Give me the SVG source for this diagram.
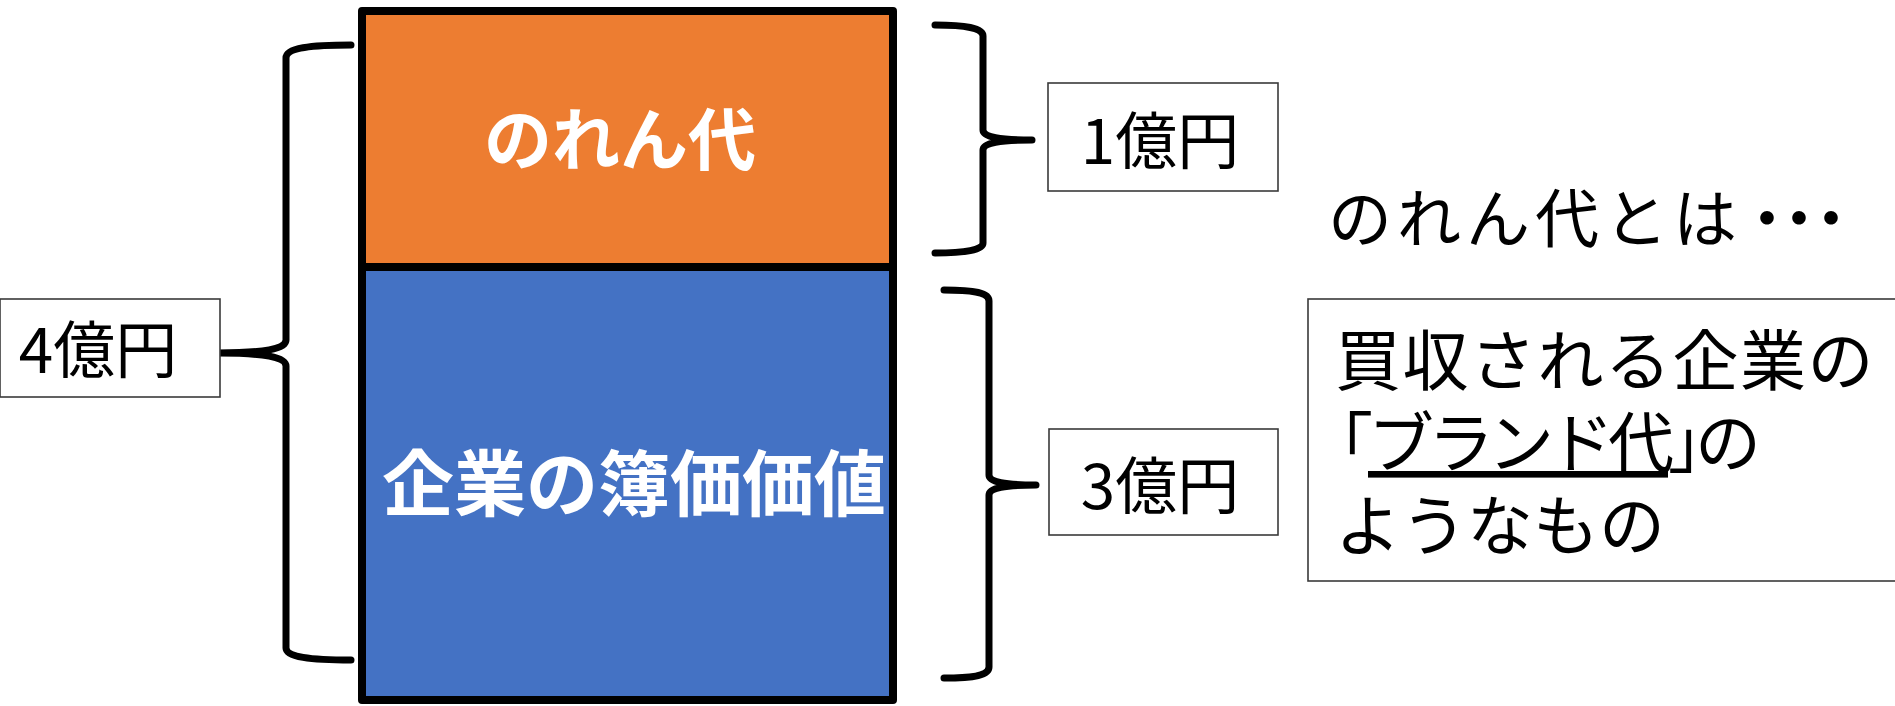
<svg xmlns="http://www.w3.org/2000/svg" width="1895" height="706" viewBox="0 0 1895 706">
  <style>
    .jp { font-family: "Noto Sans CJK JP", "Noto Sans", sans-serif; }
    .white { fill: #FFFFFF; font-weight: bold; }
    .black { fill: #000000; }
    .block { stroke: #000000; stroke-width: 8; stroke-linejoin: round; }
    .label { fill: #FFFFFF; stroke: #3A3A3A; stroke-width: 1.6; }
    .brace { fill: none; stroke: #000000; stroke-width: 7; stroke-linecap: round; stroke-linejoin: round; }
  </style>
  <rect width="1895" height="706" fill="#FFFFFF"/>

  <g id="connectors">
    <path class="brace" d="M351,45 C310,45 286,48 286,58 L286,340 C286,349 264,353 218,353 C264,353 286,357 286,366 L286,648 C286,657 310,660 351,660"/>
    <path class="brace" d="M935,25 C965,25 983,28 983,36 L983,130 C983,137 1000,140 1032,140 C1000,140 983,143 983,150 L983,243 C983,250 965,253 935,253"/>
    <path class="brace" d="M944,290 C975,290 989,293 989,301 L989,475 C989,482 1005,485 1036,485 C1005,485 989,488 989,495 L989,667 C989,675 975,678 944,678"/>
  </g>

  <g id="node-goodwill">
    <rect class="block" x="362" y="11" width="531" height="256" fill="#ED7D31"/>
    <text class="jp white" x="620" y="165" font-size="68" text-anchor="middle">のれん代</text>
  </g>

  <g id="node-bookvalue">
    <rect class="block" x="362" y="267" width="531" height="433" fill="#4472C4"/>
    <text class="jp white" x="634" y="510" font-size="72" text-anchor="middle">企業の簿価価値</text>
  </g>

  <g id="node-total">
    <rect class="label" x="0" y="299" width="220" height="98"/>
    <text class="jp black" x="98" y="373" font-size="62" text-anchor="middle">4億円</text>
  </g>

  <g id="node-1oku">
    <rect class="label" x="1048" y="83" width="230" height="108"/>
    <text class="jp black" x="1160" y="164" font-size="62" text-anchor="middle">1億円</text>
  </g>

  <g id="node-3oku">
    <rect class="label" x="1049" y="429" width="229" height="106"/>
    <text class="jp black" x="1160" y="509" font-size="62" text-anchor="middle">3億円</text>
  </g>

  <g id="node-heading">
    <text class="jp black" x="1328" y="242" font-size="64" letter-spacing="5">のれん代とは<tspan x="1735" letter-spacing="-32">・・・</tspan></text>
  </g>

  <g id="node-explanation">
    <rect class="label" x="1308" y="299" width="600" height="282"/>
    <text class="jp black" x="1335" y="385" font-size="66" letter-spacing="1.5">買収される企業の</text>
    <text class="jp black" x="1307" y="467" font-size="66">「<tspan x="1368" style="text-decoration:underline" letter-spacing="-6">ブランド代</tspan><tspan x="1668">」</tspan><tspan x="1695">の</tspan></text>
    <text class="jp black" x="1335" y="550" font-size="66">ようなもの</text>
  </g>
</svg>
